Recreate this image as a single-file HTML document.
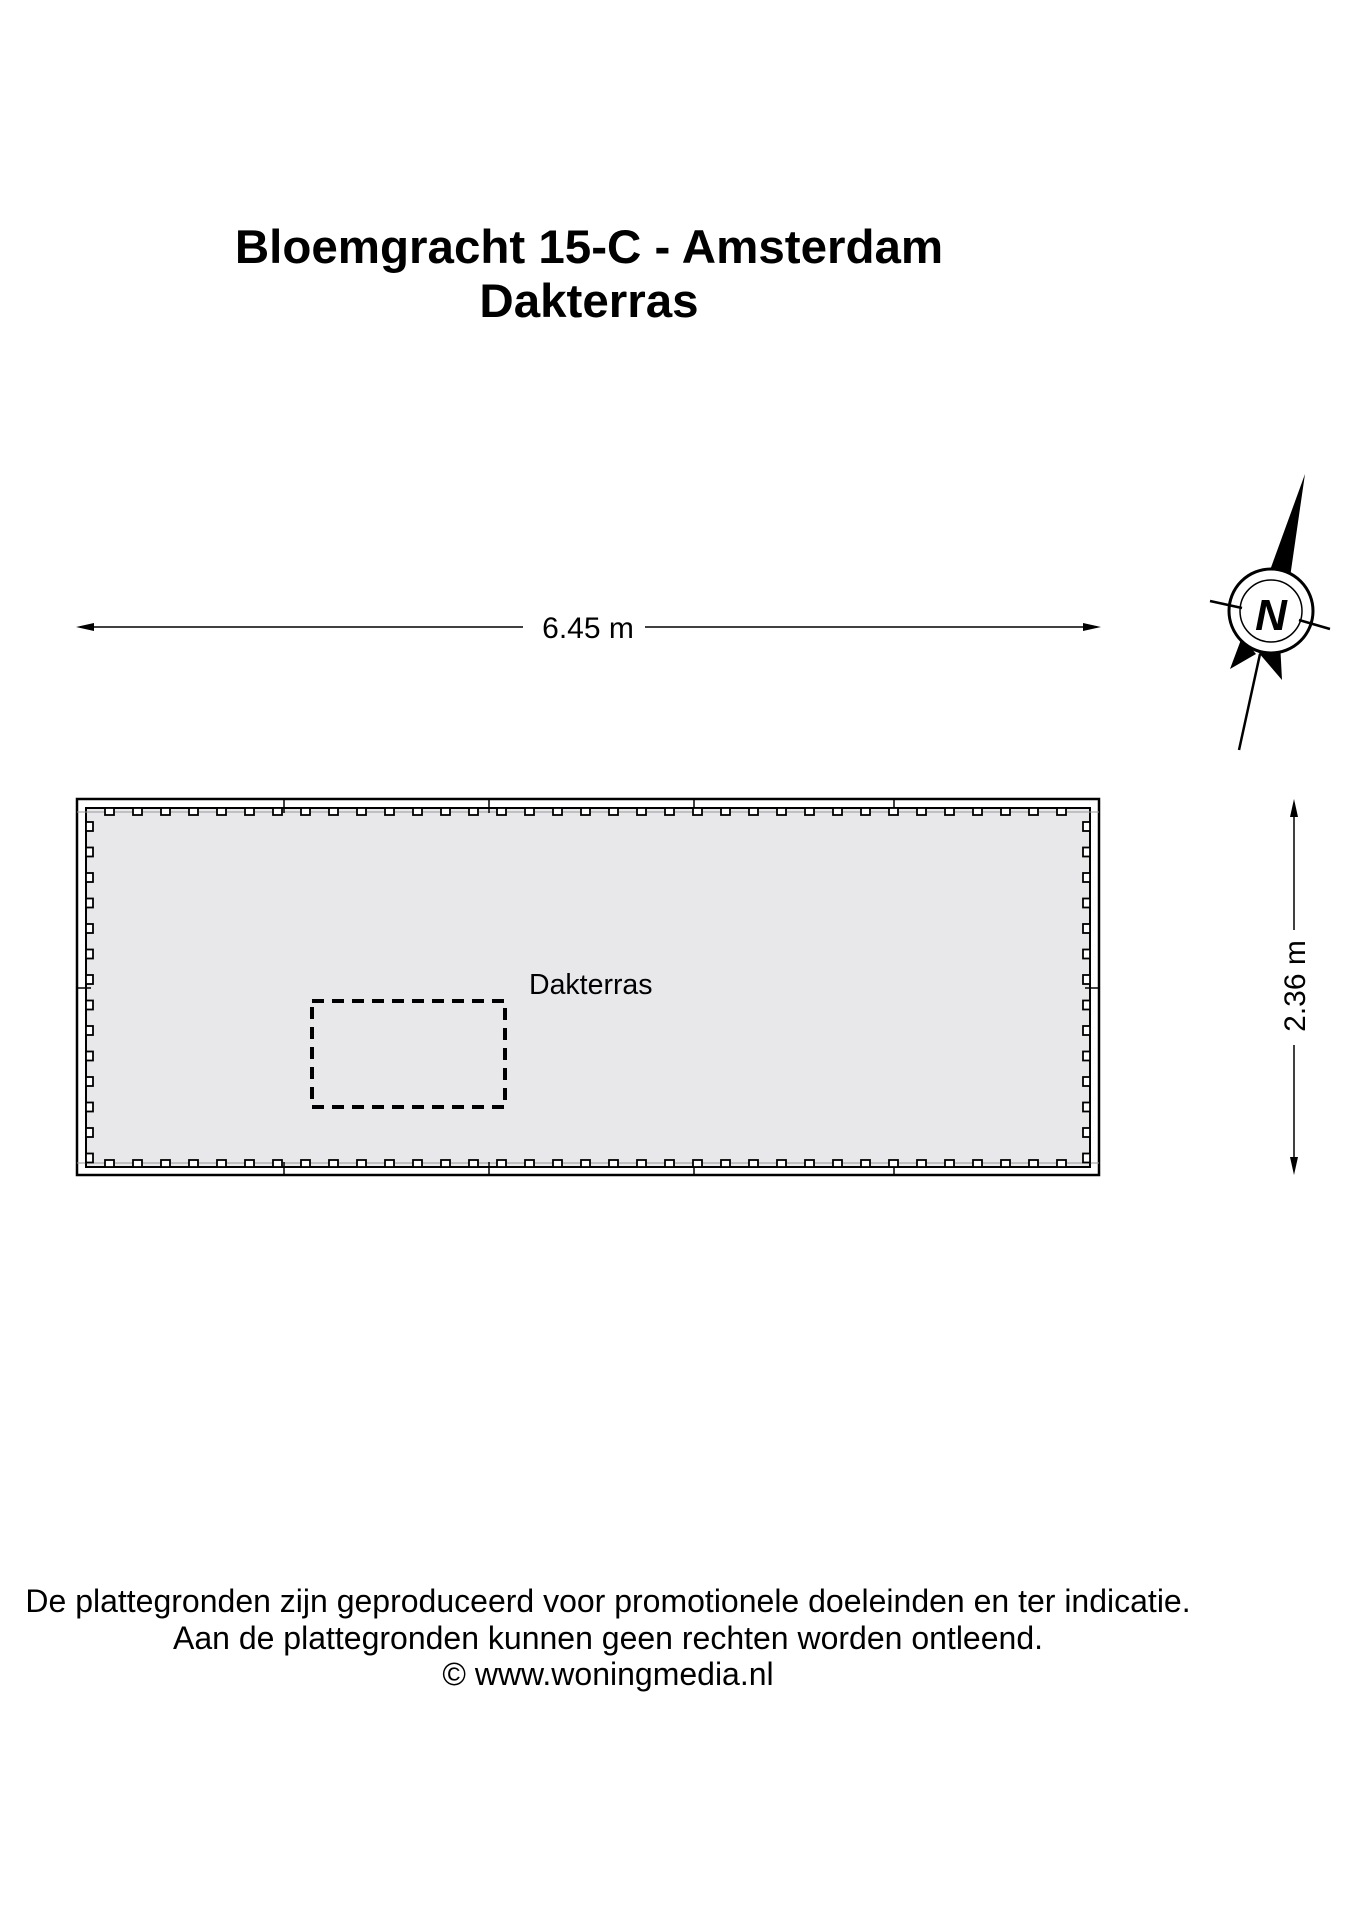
<!DOCTYPE html>
<html><head><meta charset="utf-8"><style>
body{margin:0;background:#fff;width:1358px;height:1920px;overflow:hidden}
svg{display:block}
text{font-family:"Liberation Sans",Arial,sans-serif;fill:#000}
</style></head><body>
<svg width="1358" height="1920" viewBox="0 0 1358 1920">
<text x="589" y="263" font-size="47.5" font-weight="bold" text-anchor="middle">Bloemgracht 15-C - Amsterdam</text>
<text x="589" y="317" font-size="47.5" font-weight="bold" text-anchor="middle">Dakterras</text>

<!-- horizontal dimension -->
<line x1="80" y1="627" x2="523" y2="627" stroke="#000" stroke-width="1.5"/>
<line x1="645" y1="627" x2="1097" y2="627" stroke="#000" stroke-width="1.5"/>
<polygon points="76,627 94,623 94,631" fill="#000"/>
<polygon points="1101,627 1083,623 1083,631" fill="#000"/>
<text x="588" y="638" font-size="30" text-anchor="middle">6.45 m</text>

<!-- vertical dimension -->
<line x1="1294" y1="803" x2="1294" y2="930" stroke="#000" stroke-width="1.5"/>
<line x1="1294" y1="1045" x2="1294" y2="1170" stroke="#000" stroke-width="1.5"/>
<polygon points="1294,799 1290,817 1298,817" fill="#000"/>
<polygon points="1294,1175 1290,1157 1298,1157" fill="#000"/>
<text x="0" y="0" font-size="30" text-anchor="middle" transform="translate(1305,986) rotate(-90)">2.36 m</text>

<!-- roof -->
<rect x="77" y="799" width="1022" height="376" fill="#fff" stroke="#000" stroke-width="2.5"/>
<rect x="86" y="808" width="1004" height="359" fill="#e8e8ea" stroke="#000" stroke-width="2"/>
<line x1="77" y1="812" x2="1099" y2="812" stroke="#999" stroke-width="1"/>
<line x1="77" y1="1163" x2="1099" y2="1163" stroke="#999" stroke-width="1"/>
<g stroke="#000" stroke-width="1.5">
<line x1="284" y1="799" x2="284" y2="813"/><line x1="489" y1="799" x2="489" y2="813"/><line x1="694" y1="799" x2="694" y2="813"/><line x1="894" y1="799" x2="894" y2="813"/>
<line x1="284" y1="1162" x2="284" y2="1175"/><line x1="489" y1="1162" x2="489" y2="1175"/><line x1="694" y1="1162" x2="694" y2="1175"/><line x1="894" y1="1162" x2="894" y2="1175"/>
<line x1="77" y1="988" x2="91" y2="988"/><line x1="1085" y1="988" x2="1099" y2="988"/>
</g>
<g id="notches" fill="#fff" stroke="#000" stroke-width="1.8">
</g>
<!-- dashed box -->
<rect x="312" y="1001" width="193" height="106" fill="none" stroke="#000" stroke-width="4" stroke-dasharray="12,8"/>
<text x="529" y="994" font-size="28.5">Dakterras</text>

<!-- compass -->
<polygon points="1305,474 1257,606 1285,612" fill="#000"/>
<polygon points="1242,637 1230,669 1256,654" fill="#000"/>
<polygon points="1258,652 1282,680 1280,642" fill="#000"/>
<circle cx="1271" cy="611" r="42" fill="#fff" stroke="#000" stroke-width="3"/>
<circle cx="1271" cy="611" r="31" fill="none" stroke="#000" stroke-width="1.5"/>
<line x1="1210" y1="601" x2="1242" y2="608" stroke="#000" stroke-width="2.5"/>
<line x1="1299" y1="620" x2="1330" y2="629" stroke="#000" stroke-width="2.5"/>
<line x1="1260" y1="654" x2="1239" y2="750" stroke="#000" stroke-width="2.5"/>
<text x="1271" y="630" font-size="44" font-weight="bold" font-style="italic" text-anchor="middle">N</text>

<text x="608" y="1612" font-size="32" text-anchor="middle">De plattegronden zijn geproduceerd voor promotionele doeleinden en ter indicatie.</text>
<text x="608" y="1649" font-size="32" text-anchor="middle">Aan de plattegronden kunnen geen rechten worden ontleend.</text>
<text x="608" y="1685" font-size="32" text-anchor="middle">© www.woningmedia.nl</text>
</svg>
<script>
var g=document.getElementById('notches'),s='';
for(var x=105;x<1080;x+=28){s+='<rect x="'+x+'" y="808" width="9" height="7"/>';s+='<rect x="'+x+'" y="1160" width="9" height="7"/>';}
for(var y=822;y<1155;y+=25.5){s+='<rect x="86" y="'+y+'" width="7" height="9"/>';s+='<rect x="1083" y="'+y+'" width="7" height="9"/>';}
g.innerHTML=s;
</script>
</body></html>
